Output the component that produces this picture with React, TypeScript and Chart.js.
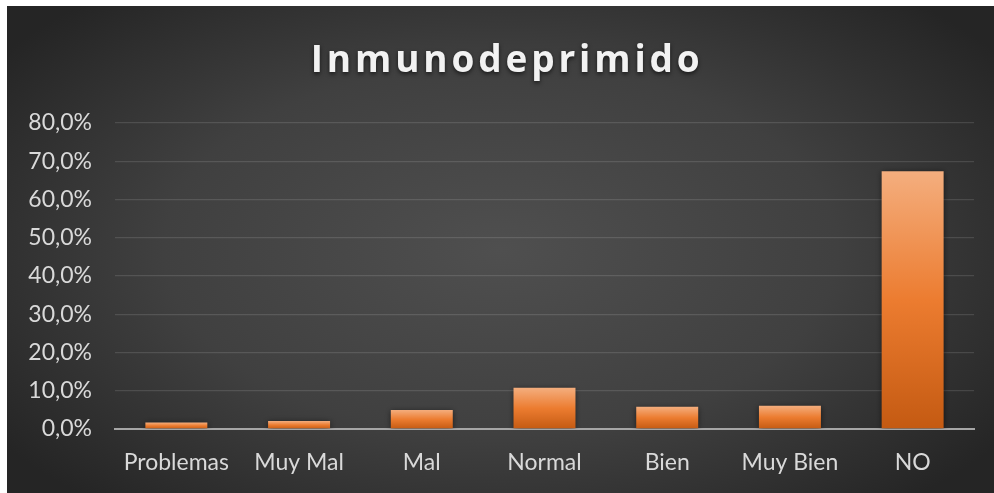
import React, { useEffect, useRef } from "react";
import { Chart, registerables } from "chart.js";

Chart.register(...registerables);

const categories = ["Problemas", "Muy Mal", "Mal", "Normal", "Bien", "Muy Bien", "NO"];
const values = [1.7, 2.1, 5.0, 10.8, 5.8, 6.1, 67.4];
const titleText = "Inmunodeprimido";
const yMax = 80;
const yStep = 10;

const W = 987;
const H = 487;

const bgPlugin = {
  id: "bgPlugin",
  beforeDraw(chart: any) {
    const { ctx, width, height } = chart;
    ctx.save();
    const ratio = 0.55;
    ctx.translate(width / 2, height / 2);
    ctx.scale(1, ratio);
    const R = width * 0.62;
    const g = ctx.createRadialGradient(0, 0, 0, 0, 0, R);
    g.addColorStop(0, "#4f4f4f");
    g.addColorStop(0.55, "#404040");
    g.addColorStop(1, "#252525");
    ctx.fillStyle = g;
    ctx.fillRect(-width / 2, -height / 2 / ratio, width, height / ratio);
    ctx.restore();
  },
};

const titlePlugin = {
  id: "titlePlugin",
  afterDraw(chart: any) {
    const { ctx } = chart;
    ctx.save();
    ctx.font = "bold 37px 'Open Sans'";
    const w = ctx.measureText(titleText).width;
    const spacing = (389 - w) / (titleText.length - 1);
    (ctx as any).letterSpacing = spacing + "px";
    ctx.textAlign = "left";
    ctx.textBaseline = "alphabetic";
    ctx.shadowColor = "rgba(0,0,0,0.6)";
    ctx.shadowBlur = 4;
    ctx.shadowOffsetY = 2;
    ctx.fillStyle = "#f2f2f2";
    ctx.fillText(titleText, 303.7, 65.7);
    ctx.restore();
  },
};

const shadowPlugin = {
  id: "shadowPlugin",
  beforeDatasetsDraw(chart: any) {
    const ctx = chart.ctx;
    ctx.save();
    ctx.shadowColor = "rgba(0,0,0,0.55)";
    ctx.shadowBlur = 6;
    ctx.shadowOffsetX = 0;
    ctx.shadowOffsetY = 1;
  },
  afterDatasetsDraw(chart: any) {
    chart.ctx.restore();
  },
};

function barGradient(c: any) {
  const chart = c.chart;
  const { chartArea, scales } = chart;
  if (!chartArea || c.type !== "data") return "#ed7d31";
  const v = c.parsed.y;
  const top = scales.y.getPixelForValue(v);
  const bot = scales.y.getPixelForValue(0);
  const g = chart.ctx.createLinearGradient(0, top, 0, bot);
  g.addColorStop(0, "#f4ae7e");
  g.addColorStop(0.5, "#ec7c30");
  g.addColorStop(1, "#c45a12");
  return g;
}

export default function App() {
  const ref = useRef<HTMLCanvasElement | null>(null);
  useEffect(() => {
    if (!ref.current) return;
    const chart = new Chart(ref.current, {
      type: "bar",
      data: {
        labels: categories,
        datasets: [
          {
            data: values,
            backgroundColor: barGradient,
            borderWidth: 0,
            categoryPercentage: 1,
            barPercentage: 0.505,
          },
        ],
      },
      options: {
        responsive: false,
        animation: false,
        events: [],
        layout: { padding: { top: 117, right: 20, left: 0, bottom: 0 } },
        plugins: {
          legend: { display: false },
          title: { display: false },
          tooltip: { enabled: false },
        },
        scales: {
          x: {
            grid: { display: false, drawTicks: false },
            border: { display: true, color: "#a6a6a6", width: 2 },
            ticks: {
              color: "#d9d9d9",
              font: { family: "Lato", size: 23 },
              padding: 20,
              maxRotation: 0,
              autoSkip: false,
            },
            afterFit(axis: any) {
              axis.height = 64;
            },
          },
          y: {
            min: 0,
            max: yMax,
            grid: { color: "rgba(255,255,255,0.12)", lineWidth: 1.3, drawTicks: false },
            border: { display: false },
            ticks: {
              stepSize: yStep,
              color: "#d9d9d9",
              font: { family: "Lato", size: 23 },
              padding: 23,
              callback: (v: any) => Number(v).toFixed(1).replace(".", ",") + "%",
            },
            afterFit(axis: any) {
              axis.width = 108;
            },
          },
        },
      },
      plugins: [bgPlugin, shadowPlugin, titlePlugin],
    });
    return () => chart.destroy();
  }, []);
  return (
    <div style={{ position: "absolute", left: 7, top: 6, width: W, height: H }}>
      <canvas ref={ref} width={W} height={H} style={{ display: "block", width: W, height: H }} />
    </div>
  );
}
